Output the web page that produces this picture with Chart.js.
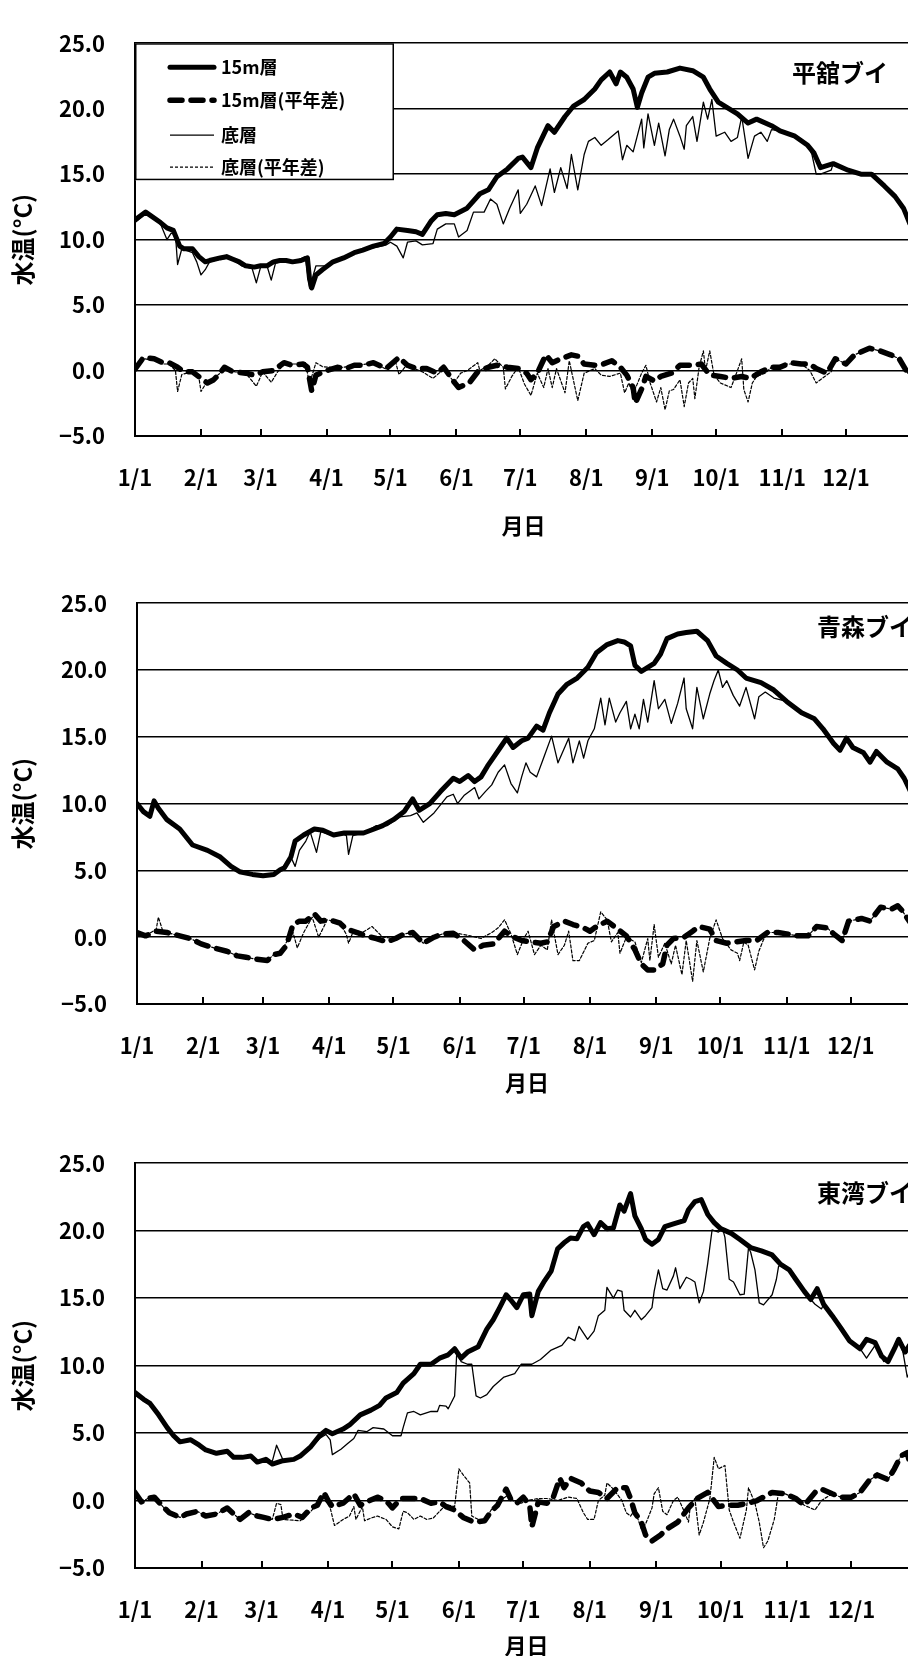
<!DOCTYPE html>
<html lang="ja">
<head>
<meta charset="utf-8">
<title>ブイ水温</title>
<script src="https://cdn.jsdelivr.net/npm/chart.js@4.4.1/dist/chart.umd.min.js"></script>
<style>
html,body{margin:0;padding:0;background:#fff;overflow:hidden;width:908px;height:1656px;}
#wrap{position:relative;width:908px;height:1656px;overflow:hidden;background:#fff;}
canvas{position:absolute;left:0;}
</style>
</head>
<body>
<div id="wrap">
<canvas id="c1" width="930" height="560" style="top:0px"></canvas>
<canvas id="c2" width="930" height="560" style="top:560px"></canvas>
<canvas id="c3" width="930" height="560" style="top:1120px"></canvas>
</div>
<script>
// Month starts (day of year) and their tick labels
const monthDays = [0, 31, 59, 90, 120, 151, 181, 212, 243, 273, 304, 334];
const monthLabels = ['1/1','2/1','3/1','4/1','5/1','6/1','7/1','8/1','9/1','10/1','11/1','12/1'];
const seriesNames = ['15m層', '15m層(平年差)', '底層', '底層(平年差)'];
const buoyNames = ['平舘ブイ', '青森ブイ', '東湾ブイ'];

// 平舘ブイ : [day of year, °C]
const hiraTop = [[0,11.5],[5,12.1],[12,11.3],[15,10.9],[18,10.7],[20,9.9],[21,9.5],[23,9.3],[27,9.3],[30,8.7],[33,8.3],[35,8.4],[40,8.6],[43,8.7],[46,8.5],[49,8.3],[52,8.0],[56,7.9],[59,8.0],[62,8.0],[65,8.3],[68,8.4],[71,8.4],[74,8.3],[78,8.4],[81,8.6],[82,7.0],[83,6.3],[85,7.3],[88,7.7],[93,8.3],[98,8.6],[103,9.0],[107,9.2],[112,9.5],[117,9.7],[120,10.2],[123,10.8],[128,10.7],[132,10.6],[135,10.4],[139,11.4],[142,11.9],[146,12.0],[150,11.9],[156,12.4],[162,13.5],[166,13.8],[170,14.8],[175,15.4],[180,16.2],[182,16.3],[186,15.5],[189,17.0],[194,18.7],[197,18.2],[202,19.4],[206,20.2],[211,20.7],[216,21.5],[219,22.2],[223,22.8],[226,21.9],[228,22.8],[231,22.4],[234,21.5],[236,20.1],[238,21.2],[241,22.4],[244,22.7],[250,22.8],[256,23.1],[262,22.9],[267,22.4],[270,21.5],[274,20.5],[278,20.1],[283,19.6],[288,18.9],[292,19.2],[299,18.7],[303,18.3],[310,17.9],[316,17.2],[319,16.6],[322,15.5],[328,15.8],[335,15.3],[341,15.0],[346,15.0],[352,14.1],[357,13.3],[361,12.4],[364,11.2]];
const hiraTopAnom = [[0,0.1],[4,1.0],[9,0.9],[13,0.6],[16,0.6],[20,0.25],[23,-0.1],[27,-0.1],[31,-0.6],[34,-0.95],[37,-0.7],[40,-0.2],[42,0.25],[46,-0.1],[52,-0.2],[56,-0.35],[60,-0.1],[65,0],[70,0.6],[74,0.4],[79,0.5],[81,0.25],[83,-1.55],[85,-0.35],[90,0],[95,0.25],[99,0.15],[103,0.4],[107,0.4],[112,0.6],[118,0.15],[124,1.0],[128,0.4],[132,0.15],[137,0.15],[142,-0.2],[145,0.25],[150,-0.9],[152,-1.3],[157,-0.95],[161,-0.1],[166,0.25],[170,0.4],[175,0.25],[180,0.15],[184,-0.2],[186,-0.7],[189,-0.2],[193,1.2],[196,0.6],[200,0.9],[205,1.2],[208,1.1],[211,0.5],[216,0.4],[220,0.5],[224,0.75],[228,0.25],[231,-0.35],[234,-1.3],[235,-2.5],[238,-1.4],[240,-0.45],[244,-0.8],[247,-0.45],[252,-0.2],[256,0.4],[261,0.4],[266,0.5],[270,-0.35],[275,-0.45],[280,-0.6],[285,-0.45],[289,-0.6],[294,-0.1],[299,0.25],[303,0.25],[308,0.6],[313,0.5],[317,0.5],[320,0.15],[325,-0.2],[329,0.9],[334,0.5],[338,1.2],[345,1.7],[350,1.5],[355,1.2],[359,0.9],[363,-0.2]];
const hiraBottom = [[0,11.3],[5,12.0],[12,11.2],[15,10.0],[17,10.5],[19,10.4],[20,8.1],[22,9.3],[27,9.0],[29,8.3],[31,7.3],[33,7.7],[35,8.3],[40,8.5],[45,8.6],[50,8.0],[55,7.8],[57,6.7],[59,7.9],[62,8.0],[64,6.9],[66,8.2],[71,8.4],[76,8.4],[80,8.7],[82,6.3],[85,8.0],[90,8.0],[100,8.8],[110,9.3],[118,9.6],[120,9.8],[123,9.5],[126,8.6],[128,9.8],[132,9.9],[135,9.6],[140,9.7],[142,10.8],[146,11.2],[150,11.2],[152,10.2],[156,10.7],[159,12.1],[164,12.1],[167,13.1],[170,12.7],[173,11.2],[176,12.4],[180,13.8],[181,12.0],[184,12.7],[188,14.1],[191,12.6],[195,15.4],[197,13.6],[200,15.5],[203,13.9],[205,16.5],[208,13.8],[211,16.5],[213,17.5],[216,17.8],[219,17.2],[222,17.6],[227,18.3],[229,16.1],[231,17.2],[234,16.7],[238,19.2],[239,17.0],[241,19.6],[244,17.2],[246,18.9],[249,16.4],[251,18.4],[253,19.2],[256,17.9],[258,16.9],[259,18.7],[262,19.4],[264,17.5],[267,20.5],[269,19.2],[271,20.7],[273,17.9],[277,18.2],[280,17.5],[283,17.8],[285,19.4],[288,16.2],[291,17.9],[294,18.2],[297,17.5],[299,18.4],[303,18.3],[310,17.9],[316,17.2],[318,16.5],[320,15.0],[322,15.0],[327,15.3],[328,15.8],[335,15.3],[341,15.0],[346,15.0],[352,14.1],[357,13.3],[361,12.4],[364,11.2]];
const hiraBottomAnom = [[0,0.1],[4,0.9],[9,0.8],[13,0.5],[16,0.5],[19,0],[20,-1.6],[22,-0.3],[27,-0.1],[30,-0.5],[31,-1.6],[34,-0.8],[37,-0.6],[40,-0.2],[43,0.2],[47,-0.1],[52,-0.2],[57,-1.2],[60,-0.1],[64,-0.9],[67,-0.1],[70,0.5],[76,0.5],[80,0.6],[82,-1.0],[85,0.6],[88,0.3],[95,0.2],[105,0.4],[112,0.6],[118,0.1],[122,0.9],[124,-0.3],[127,0.3],[132,0.1],[135,-0.1],[140,-0.6],[145,0.1],[150,-0.9],[153,-0.2],[156,0],[161,0.6],[162,0],[166,0.4],[169,0.9],[173,0.25],[174,-1.4],[177,-0.45],[180,0.25],[183,-1.05],[186,-1.9],[189,-0.2],[192,-1.3],[194,0.15],[196,-1.3],[198,0.15],[202,-1.7],[204,0.75],[208,-2.3],[211,-0.2],[216,0.15],[219,-0.35],[223,-0.45],[228,-0.2],[230,-1.7],[232,-0.95],[234,-1.8],[238,-0.2],[240,0.4],[242,-0.95],[245,-2.4],[247,-1.3],[249,-3.0],[251,-1.55],[253,-1.45],[256,-0.7],[258,-2.75],[260,-0.95],[262,-0.6],[263,-2.15],[265,0.25],[267,1.5],[268,0],[270,1.5],[272,-0.35],[275,-0.95],[280,-1.3],[283,0],[285,0.9],[286,-1.45],[288,-2.4],[290,-0.95],[292,-0.45],[296,-0.2],[299,0.25],[306,0.5],[313,0.5],[317,0],[320,-0.95],[322,-0.7],[327,-0.1],[329,0.9],[334,0.5],[338,1.2],[345,1.7],[350,1.5],[355,1.2],[359,0.9],[363,-0.2]];

// 青森ブイ
const aomoriTop = [[0,10.0],[3,9.4],[6,9.05],[8,10.2],[10,9.65],[14,8.8],[20,8.1],[26,6.9],[33,6.5],[39,6.0],[44,5.3],[48,4.9],[54,4.7],[59,4.6],[64,4.7],[67,5.05],[69,5.2],[72,6.0],[74,7.2],[78,7.65],[83,8.1],[87,8.0],[92,7.65],[97,7.8],[101,7.8],[106,7.8],[111,8.1],[115,8.35],[120,8.8],[125,9.4],[129,10.35],[132,9.5],[137,10.0],[142,10.9],[148,11.9],[151,11.65],[155,12.1],[158,11.65],[161,12.0],[164,12.8],[167,13.5],[170,14.2],[173,14.9],[176,14.2],[180,14.7],[183,14.9],[187,15.8],[190,15.5],[193,16.8],[197,18.2],[201,18.9],[206,19.4],[211,20.2],[215,21.3],[220,21.9],[225,22.2],[228,22.1],[231,21.8],[233,20.35],[236,19.9],[239,20.2],[242,20.5],[245,21.2],[248,22.35],[253,22.7],[257,22.8],[262,22.9],[267,22.2],[271,21.05],[276,20.5],[281,20.0],[285,19.4],[292,19.05],[298,18.5],[304,17.65],[311,16.8],[317,16.35],[321,15.6],[326,14.5],[329,14.0],[332,14.9],[335,14.2],[340,13.8],[343,13.1],[346,13.9],[351,13.1],[356,12.6],[359,11.9],[362,10.9],[364,10.5]];
const aomoriTopAnom = [[0,0.35],[4,0.1],[9,0.45],[14,0.35],[20,0.1],[25,-0.1],[30,-0.5],[36,-0.8],[42,-1.05],[47,-1.4],[51,-1.5],[56,-1.65],[61,-1.75],[64,-1.3],[67,-1.2],[70,-0.6],[73,0.95],[76,1.2],[79,1.2],[83,1.75],[86,1.2],[89,1.3],[92,1.2],[95,1.05],[98,0.6],[103,0.35],[107,0.1],[112,-0.1],[117,-0.35],[121,-0.1],[125,0.25],[129,0.35],[134,-0.45],[139,0],[143,0.25],[148,0.3],[153,-0.25],[158,-0.95],[162,-0.6],[167,-0.5],[172,0.45],[175,0.1],[180,-0.25],[184,-0.35],[189,-0.45],[192,-0.35],[195,0.8],[200,1.2],[204,0.95],[209,0.7],[212,0.45],[215,0.8],[220,1.2],[225,0.6],[229,0.1],[233,-0.95],[236,-2.0],[239,-2.45],[242,-2.45],[246,-2.0],[248,-0.6],[251,-0.1],[256,0],[260,0.45],[263,0.8],[268,0.6],[271,-0.25],[276,-0.45],[280,-0.35],[285,-0.25],[290,-0.25],[295,0.35],[300,0.35],[304,0.25],[309,0.1],[314,0.1],[318,0.8],[323,0.7],[326,0.25],[330,-0.25],[333,1.2],[339,1.4],[343,1.2],[348,2.25],[353,2.1],[356,2.35],[358,2.0],[361,1.3],[364,0.6]];
const aomoriBottom = [[0,10.0],[3,9.4],[6,9.05],[8,10.2],[10,9.65],[14,8.8],[20,8.1],[26,6.9],[33,6.5],[39,6.0],[44,5.3],[48,4.9],[54,4.7],[59,4.6],[64,4.7],[67,5.05],[70,5.3],[72,6.0],[74,5.3],[76,6.5],[79,7.2],[81,7.9],[84,6.35],[86,7.9],[90,7.7],[95,7.8],[98,7.6],[99,6.2],[101,7.6],[106,7.8],[112,8.35],[117,8.35],[123,9.0],[128,9.1],[131,9.3],[134,8.6],[139,9.3],[145,10.5],[148,10.7],[150,10.0],[153,10.6],[158,11.2],[160,10.35],[163,10.9],[166,11.4],[169,12.35],[172,12.9],[175,11.5],[178,10.8],[180,12.0],[182,13.05],[184,12.35],[187,12.0],[190,13.3],[194,15.05],[197,13.05],[202,14.9],[204,13.05],[207,14.7],[209,13.4],[211,14.7],[214,15.6],[217,17.9],[219,15.9],[221,17.9],[224,16.1],[226,16.8],[229,17.65],[231,15.6],[233,16.7],[235,15.6],[237,17.8],[239,16.1],[242,19.2],[244,17.1],[247,17.8],[250,16.0],[253,17.5],[256,19.4],[257,17.1],[260,15.6],[262,18.7],[265,16.35],[268,18.2],[270,19.2],[272,20.0],[274,18.7],[276,19.2],[279,18.1],[282,17.3],[285,18.7],[289,16.35],[291,18.0],[294,18.35],[298,17.9],[304,17.65],[311,16.8],[317,16.35],[321,15.6],[326,14.5],[329,14.0],[332,14.9],[335,14.2],[340,13.8],[343,13.1],[346,13.9],[351,13.1],[356,12.6],[359,11.9],[362,10.9],[364,10.5]];
const aomoriBottomAnom = [[0,0.35],[4,0.1],[9,0.6],[10,1.5],[12,0.5],[14,0.35],[20,0.1],[25,-0.1],[30,-0.5],[36,-0.8],[42,-1.05],[47,-1.4],[51,-1.5],[56,-1.65],[61,-1.75],[64,-1.3],[67,-1.2],[70,-0.35],[73,0.35],[75,-0.8],[78,0.35],[82,1.5],[85,0],[89,1.3],[92,1.2],[95,1.05],[98,0.2],[99,-0.45],[101,0.35],[106,0.4],[110,0.8],[115,0],[121,-0.1],[125,0.25],[129,0.35],[134,-0.45],[139,0],[143,0.25],[148,0.35],[156,0.1],[161,-0.1],[166,0.35],[169,0.7],[172,1.3],[175,0.25],[178,-1.3],[181,-0.1],[183,0.45],[186,-1.3],[189,-0.6],[192,-0.95],[194,1.3],[197,-1.3],[200,-0.6],[202,0.45],[204,-1.75],[207,-1.75],[211,-0.45],[214,-0.25],[217,1.9],[220,1.3],[222,-0.35],[225,0.35],[226,-1.2],[229,0],[233,-0.35],[236,-1.9],[239,-0.1],[240,-1.75],[242,0.95],[244,-1.5],[247,-0.45],[250,-2.0],[252,-0.6],[255,-2.8],[257,-0.25],[260,-3.3],[262,-0.25],[265,-2.6],[268,-0.1],[271,1.3],[274,-0.1],[278,-0.95],[281,-1.2],[282,-1.75],[284,-0.35],[286,-0.6],[289,-2.45],[291,-1.05],[293,-0.25],[295,0.35],[300,0.35],[304,0.25],[309,0.1],[314,0.1],[318,0.8],[323,0.7],[326,0.25],[330,-0.25],[333,1.2],[339,1.4],[343,1.2],[348,2.25],[353,2.1],[356,2.35],[358,2.0],[361,1.3],[364,0.6]];

// 東湾ブイ
const touwanTop = [[0,8.0],[4,7.5],[7,7.2],[11,6.35],[15,5.4],[18,4.8],[21,4.35],[26,4.5],[30,4.1],[33,3.75],[38,3.5],[43,3.65],[46,3.2],[50,3.2],[54,3.3],[57,2.85],[61,3.05],[64,2.7],[69,2.95],[74,3.05],[77,3.3],[82,4.0],[86,4.8],[89,5.2],[92,4.95],[97,5.3],[100,5.6],[105,6.35],[110,6.7],[114,7.05],[117,7.6],[122,8.0],[125,8.7],[130,9.4],[133,10.1],[138,10.1],[142,10.55],[146,10.8],[149,11.25],[152,10.55],[155,11.0],[160,11.4],[164,12.7],[167,13.4],[170,14.3],[173,15.25],[175,14.9],[178,14.3],[181,15.25],[184,15.3],[185,13.7],[188,15.5],[191,16.3],[194,17.0],[197,18.65],[200,19.1],[203,19.45],[206,19.4],[209,20.3],[211,20.5],[214,19.7],[217,20.6],[220,20.15],[223,20.2],[226,21.9],[228,21.45],[231,22.75],[233,21.1],[236,20.15],[238,19.35],[241,19.0],[244,19.35],[247,20.3],[251,20.5],[256,20.75],[258,21.55],[261,22.15],[264,22.3],[267,21.2],[270,20.6],[273,20.15],[278,19.8],[282,19.35],[287,18.75],[292,18.5],[297,18.2],[301,17.5],[305,17.1],[308,16.4],[312,15.5],[315,14.9],[318,15.7],[321,14.55],[325,13.7],[329,12.8],[333,11.85],[338,11.25],[341,11.95],[345,11.7],[348,10.7],[351,10.3],[354,11.25],[356,11.95],[359,11.0],[361,11.5],[363,9.6]];
const touwanTopAnom = [[0,0.6],[3,-0.1],[6,0.15],[9,0.25],[13,-0.45],[16,-0.9],[21,-1.25],[24,-1.0],[29,-0.8],[33,-1.15],[38,-1.0],[43,-0.55],[46,-1.0],[49,-1.4],[53,-0.9],[57,-1.15],[60,-1.25],[64,-1.4],[69,-1.25],[74,-1.0],[78,-1.25],[82,-0.55],[85,-0.35],[88,0.6],[90,0.0],[92,-0.45],[97,-0.2],[102,0.5],[105,-0.35],[108,-0.1],[113,0.25],[117,0],[120,-0.55],[124,0.15],[128,0.15],[133,0.15],[138,-0.2],[142,-0.1],[145,-0.45],[149,-0.7],[153,-1.25],[158,-1.6],[163,-1.5],[166,-0.8],[169,-0.35],[173,0.85],[175,0.15],[178,-0.2],[181,0.25],[184,-0.35],[185,-1.95],[188,-0.1],[192,-0.2],[195,0.25],[198,1.65],[200,0.95],[203,1.65],[208,1.3],[212,0.7],[216,0.6],[220,0.15],[225,0.95],[229,0.95],[231,0.15],[233,-0.9],[236,-1.6],[238,-2.55],[241,-3.0],[245,-2.55],[248,-2.1],[253,-1.6],[258,-0.55],[262,0.15],[267,0.6],[272,-0.45],[276,-0.35],[281,-0.35],[286,-0.2],[290,0],[297,0.6],[303,0.5],[308,0.15],[312,-0.35],[317,0.6],[320,0.85],[325,0.5],[329,0.25],[334,0.25],[338,0.6],[342,1.45],[346,1.9],[351,1.55],[354,2.35],[357,3.3],[360,3.55],[361,2.85],[363,2.5]];
const touwanBottom = [[0,7.8],[4,7.4],[7,7.1],[11,6.3],[15,5.3],[18,4.7],[21,4.3],[26,4.4],[30,4.0],[33,3.7],[38,3.5],[43,3.6],[46,3.2],[50,3.2],[54,3.3],[57,2.9],[61,3.0],[64,2.9],[66,4.1],[69,3.0],[74,3.0],[77,3.2],[82,3.9],[86,4.6],[89,4.9],[91,4.5],[92,3.4],[96,3.8],[99,4.2],[102,4.6],[104,5.2],[108,5.1],[111,5.4],[116,5.3],[120,4.8],[124,4.8],[125,5.4],[127,6.5],[130,6.6],[133,6.35],[138,6.6],[141,6.6],[142,7.05],[145,7.0],[146,6.8],[149,7.75],[150,11.0],[152,10.3],[155,10.1],[157,10.1],[159,7.75],[161,7.6],[164,7.85],[167,8.45],[172,9.15],[177,9.4],[180,10.1],[185,10.1],[189,10.45],[194,11.15],[199,11.5],[202,12.1],[205,11.85],[207,12.9],[211,11.95],[214,12.55],[216,13.7],[219,14.1],[220,15.8],[223,15.0],[225,15.6],[227,15.5],[228,14.1],[231,13.6],[233,14.1],[236,13.4],[238,13.7],[241,14.3],[242,15.5],[244,17.1],[246,15.7],[248,15.6],[251,16.65],[252,17.25],[254,15.7],[257,16.55],[259,16.4],[261,16.2],[263,14.65],[265,15.5],[267,17.6],[269,20.05],[272,19.9],[274,20.1],[275,19.5],[277,16.4],[279,16.2],[282,15.25],[284,15.3],[286,18.75],[287,18.4],[289,17.1],[291,14.65],[293,14.5],[297,15.25],[299,16.4],[300,17.35],[301,17.5],[305,17.1],[308,16.4],[312,15.5],[315,14.9],[317,14.55],[320,14.2],[321,14.55],[325,13.7],[329,12.8],[333,11.85],[338,11.25],[341,10.55],[345,11.5],[349,10.3],[352,10.5],[356,11.95],[358,11.0],[360,9.15],[363,10.1]];
const touwanBottomAnom = [[0,0.5],[3,-0.1],[6,0.15],[9,0.25],[13,-0.45],[16,-0.9],[21,-1.25],[24,-1.0],[29,-0.8],[33,-1.15],[38,-1.0],[43,-0.55],[46,-1.0],[49,-1.4],[53,-0.9],[57,-1.15],[60,-1.25],[64,-1.4],[66,-0.2],[68,-0.3],[69,-1.4],[77,-1.5],[82,-0.8],[85,-0.2],[88,0.15],[91,-0.55],[93,-1.85],[97,-1.4],[100,-1.15],[102,-0.45],[103,-1.4],[106,-0.45],[107,-1.5],[110,-1.3],[113,-1.15],[117,-1.4],[120,-1.95],[123,-2.1],[125,-0.8],[127,-0.9],[130,-1.4],[133,-1.15],[136,-1.4],[139,-1.3],[142,-0.8],[145,-0.3],[149,-0.45],[151,2.35],[153,1.9],[156,1.3],[157,-1.15],[160,-1.4],[163,-1.5],[166,-0.7],[170,0],[174,0.4],[177,-0.1],[180,-0.2],[183,0],[188,0.15],[192,0.15],[197,0],[202,0.25],[206,0.15],[209,-0.9],[211,-1.4],[214,-1.4],[216,0],[219,0.4],[220,1.3],[223,0.85],[227,0],[229,-0.9],[231,-1.15],[233,-0.7],[236,-2.1],[238,-1.75],[241,-0.55],[242,0.5],[244,0.95],[246,-0.8],[248,-1.05],[251,0],[253,0.25],[256,-0.8],[258,-1.6],[259,-0.2],[261,0.15],[263,-2.55],[265,-1.6],[268,0.15],[270,3.2],[272,2.35],[275,2.6],[277,-0.7],[279,-1.6],[282,-2.8],[285,-0.7],[286,0.95],[289,-0.2],[291,-1.6],[293,-3.5],[295,-3.0],[298,-1.4],[300,0.6],[303,0.5],[308,0.15],[312,-0.35],[317,-0.7],[320,0.0],[325,0.5],[329,0.25],[334,0.25],[338,0.6],[342,1.45],[346,1.9],[351,1.55],[354,2.35],[357,3.3],[360,3.55],[361,2.85],[363,2.5]];

const FONT = "'Noto Sans CJK JP', 'Noto Sans CJK SC', sans-serif";
Chart.defaults.font.family = FONT;
Chart.defaults.font.weight = 'bold';
Chart.defaults.color = '#000';

// line styles for the four series (15m, 15m anomaly, bottom, bottom anomaly)
const lineStyles = [
  { borderWidth: 5, borderDash: [], order: 0 },
  { borderWidth: 5.5, borderDash: [12, 9], order: 1 },
  { borderWidth: 1.3, borderDash: [], order: 2 },
  { borderWidth: 1.2, borderDash: [3, 2], order: 3 }
];

// panel title, month tick marks and the boxed legend
const buoyDecor = {
  id: 'buoyDecor',
  afterDraw(chart, args, opts) {
    const { ctx, chartArea: a, scales: { x } } = chart;
    ctx.save();
    // short inward tick marks at month starts
    ctx.strokeStyle = '#000';
    ctx.lineWidth = 2;
    monthDays.slice(1).forEach(d => {
      const px = Math.round(x.getPixelForValue(d));
      ctx.beginPath();
      ctx.moveTo(px, a.bottom);
      ctx.lineTo(px, a.bottom - 7);
      ctx.stroke();
    });
    // buoy name inside the plot
    ctx.fillStyle = '#000';
    ctx.font = 'bold 24px ' + FONT;
    ctx.textAlign = 'left';
    ctx.textBaseline = 'middle';
    ctx.fillText(opts.title, a.left + opts.titleDx, a.top + opts.titleDy);
    // legend box
    if (opts.legend) {
      const w = 259, h = 137;
      ctx.fillStyle = '#fff';
      ctx.fillRect(a.left, a.top, w, h);
      ctx.lineWidth = 1.5;
      ctx.strokeStyle = '#000';
      ctx.strokeRect(a.left + 0.75, a.top + 0.75, w - 1.5, h - 1.5);
      const rows = [24, 57, 92, 124];
      chart.data.datasets.forEach((ds, i) => {
        const y = a.top + rows[i];
        ctx.beginPath();
        ctx.lineWidth = ds.borderWidth;
        ctx.lineCap = ds.borderWidth > 2 ? 'round' : 'butt';
        ctx.setLineDash(ds.borderDash || []);
        ctx.moveTo(a.left + 35, y);
        ctx.lineTo(a.left + 79, y);
        ctx.stroke();
        ctx.setLineDash([]);
        ctx.fillStyle = '#000';
        ctx.font = 'bold 18px ' + FONT;
        ctx.textAlign = 'left';
        ctx.textBaseline = 'middle';
        ctx.fillText(ds.label, a.left + 86, y);
      });
    }
    ctx.restore();
  }
};

function buildChart(id, series, p) {
  const datasets = series.map((s, i) => ({
    label: seriesNames[i],
    data: s.map(([d, v]) => ({ x: d, y: v })),
    borderColor: '#000',
    backgroundColor: '#000',
    borderWidth: lineStyles[i].borderWidth,
    borderDash: lineStyles[i].borderDash,
    borderCapStyle: 'round',
    borderJoinStyle: 'round',
    order: lineStyles[i].order,
    pointRadius: 0,
    tension: 0,
    fill: false
  }));
  return new Chart(document.getElementById(id), {
    type: 'line',
    data: { datasets },
    options: {
      responsive: false,
      animation: false,
      devicePixelRatio: 1,
      layout: { padding: { top: p.top, right: p.right, bottom: 0, left: 0 } },
      plugins: {
        legend: { display: false },
        tooltip: { enabled: false },
        buoyDecor: { title: p.title, titleDx: p.titleDx, titleDy: p.titleDy, legend: p.legend }
      },
      scales: {
        x: {
          type: 'linear',
          min: 0,
          max: 365,
          afterBuildTicks: s => { s.ticks = monthDays.map(v => ({ value: v })); },
          afterFit: s => { s.height = p.xHeight; },
          ticks: {
            autoSkip: false, maxRotation: 0, padding: 28,
            font: { size: 22, weight: 'bold' },
            callback: (v) => monthLabels[monthDays.indexOf(v)]
          },
          grid: { display: false, drawTicks: false },
          border: { display: true, color: '#000', width: 2 },
          title: { display: true, text: '月日', font: { size: 22, weight: 'bold' }, padding: { top: 0, bottom: p.xTitlePad } }
        },
        y: {
          min: -5,
          max: 25,
          afterFit: s => { s.width = p.yWidth; },
          ticks: {
            stepSize: 5, padding: 30, font: { size: 22, weight: 'bold' },
            callback: v => (v < 0 ? '\u2212' : '') + Math.abs(v).toFixed(1)
          },
          grid: { color: '#000', lineWidth: 1.5, drawTicks: false },
          border: { display: true, color: '#000', width: 2 },
          title: { display: true, text: '水温(°C)', font: { size: 24, weight: 'bold' }, padding: { top: 8, bottom: 0 } }
        }
      }
    },
    plugins: [buoyDecor]
  });
}

buildChart('c1', [hiraTop, hiraTopAnom, hiraBottom, hiraBottomAnom],
  { top: 23, right: 18, xHeight: 124, yWidth: 135, xTitlePad: 21, title: buoyNames[0], titleDx: 657, titleDy: 30, legend: true });
buildChart('c2', [aomoriTop, aomoriTopAnom, aomoriBottom, aomoriBottomAnom],
  { top: 19, right: 13, xHeight: 116, yWidth: 137, xTitlePad: 24, title: buoyNames[1], titleDx: 680, titleDy: 24, legend: false });
buildChart('c3', [touwanTop, touwanTopAnom, touwanBottom, touwanBottomAnom],
  { top: 21, right: 12, xHeight: 112, yWidth: 135, xTitlePad: 21, title: buoyNames[2], titleDx: 682, titleDy: 30, legend: false });
</script>
</body>
</html>
